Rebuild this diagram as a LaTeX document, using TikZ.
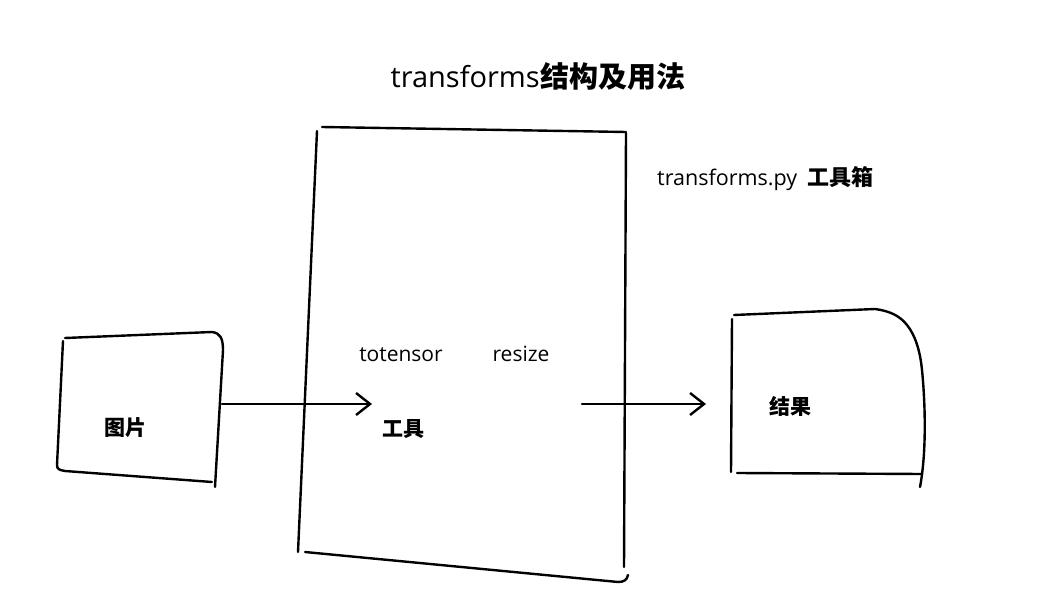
\documentclass[tikz,border=0pt]{standalone}
\usepackage{fontspec}
\setmainfont{Open Sans}
\newfontfamily\cjk{Noto Sans CJK SC}
\usetikzlibrary{arrows.meta}
\tikzset{
  ink/.style={line width=2.4pt, line cap=round, line join=round, black},
  arr/.style={ink, -{Straight Barb[length=14pt,width=22pt,line width=2.4pt]}},
  lat/.style={inner sep=0pt, anchor=base},
  zh/.style={inner sep=0pt, anchor=base, font=\cjk\bfseries}
}
\begin{document}
\begin{tikzpicture}[x=1pt,y=-1pt]
\useasboundingbox[fill=white] (0,0) rectangle (1057,612);
% title
\node[lat, anchor=base east, font=\fontsize{29}{32}\selectfont] (t1) at (540,88) {transforms};
\node[zh, anchor=base west, font=\cjk\bfseries\fontsize{29}{32}\selectfont] (t2) at (t1.base east) {结构及用法};
% subtitle
\node[lat, anchor=base west, font=\fontsize{21.5}{24}\selectfont] (s1) at (657,186) {transforms.py};
\node[zh, anchor=base west, font=\cjk\bfseries\fontsize{22}{24}\selectfont] (s2) at (807,186) {工具箱};
% big tool box
\draw[ink] (322,127) -- (626,132);
\draw[ink] (317,131) -- (298,552);
\draw[ink] (626,133) -- (624,567);
\draw[ink] (305,552) -- (618,582) .. controls (624,582) and (627,580) .. (628,575);
% image box
\draw[ink] (65,338) -- (212,332) .. controls (220,333) and (223,338) .. (223,350) -- (215,487);
\draw[ink] (63,341) -- (57,465) .. controls (57,469) and (59,470) .. (65,471) -- (212,482);
% result box
\draw[ink] (734,315) -- (875,309) .. controls (890,311) and (900,316) .. (907,325)
  .. controls (915,335) and (920,350) .. (922,370) .. controls (925,400) and (927,450) .. (920,487);
\draw[ink] (732,319) -- (731,472);
\draw[ink] (737,473) -- (922,474);
% texts inside
\node[zh, font=\cjk\bfseries\fontsize{21}{24}\selectfont] (img) at (125,435) {图片};
\node[lat, font=\fontsize{21}{24}\selectfont] (tt) at (401,361) {totensor};
\node[lat, font=\fontsize{21}{24}\selectfont] (rs) at (521,361) {resize};
\node[zh, font=\cjk\bfseries\fontsize{21}{24}\selectfont] (tool) at (403,436) {工具};
\node[zh, font=\cjk\bfseries\fontsize{21}{24}\selectfont] (res) at (790,414) {结果};
% connectors
\coordinate (imgR) at (222,404);
\coordinate (toolIn) at (372,404);
\coordinate (toolOut) at (582,404);
\coordinate (resIn) at (706,404);
\draw[arr] (imgR) -- (toolIn);
\draw[arr] (toolOut) -- (resIn);
\end{tikzpicture}
\end{document}
